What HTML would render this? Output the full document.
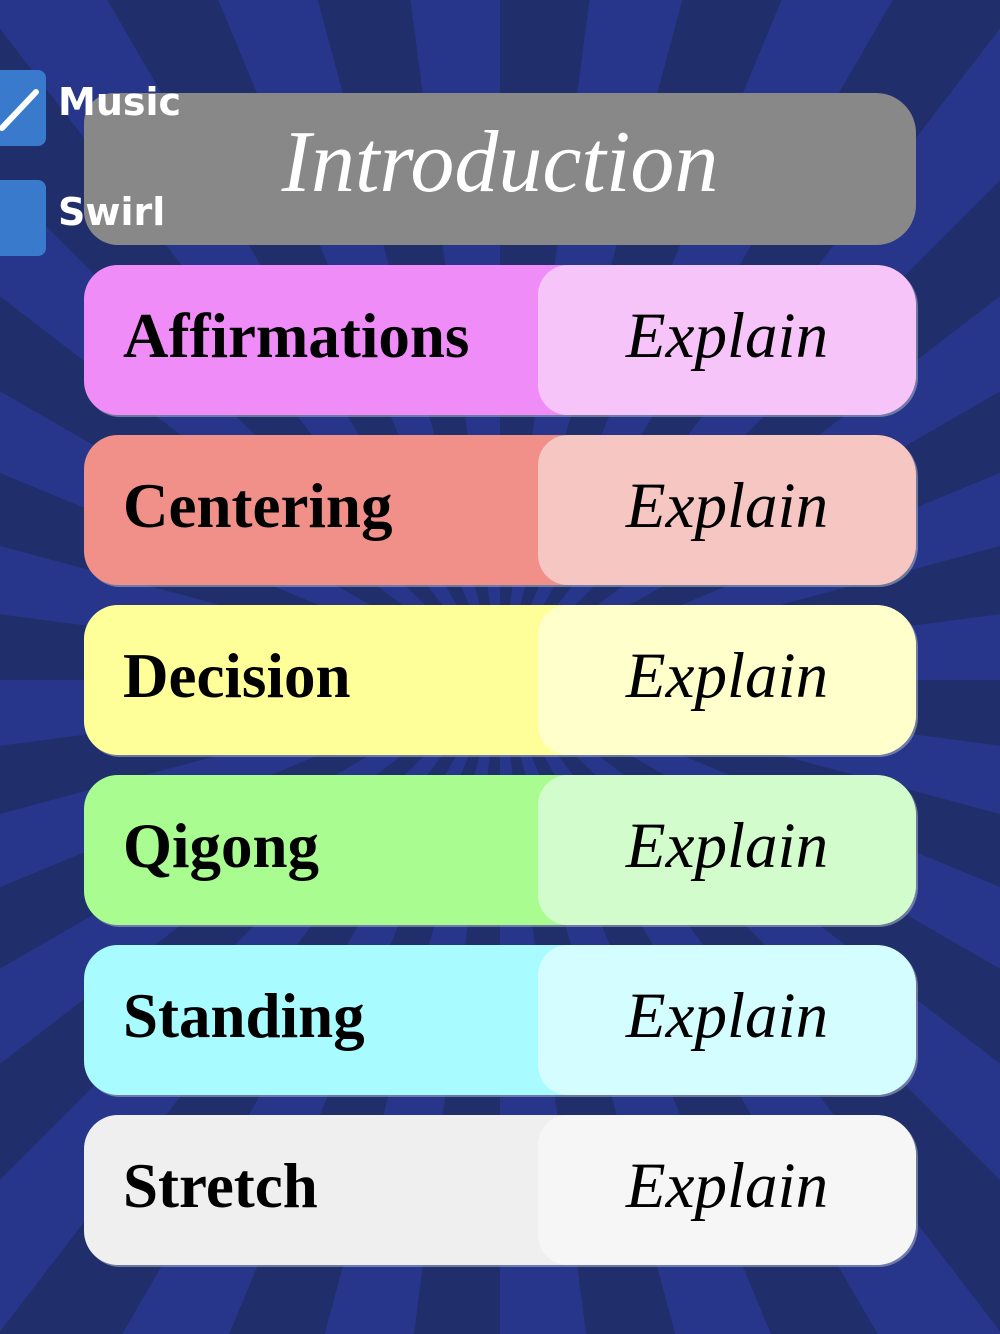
<!DOCTYPE html>
<html><head><style>
html,body{margin:0;padding:0}
body{width:1000px;height:1334px;overflow:hidden;position:relative;
background:repeating-conic-gradient(from 0deg at 500px 680px,#212e6c 0deg 7.5deg,#27358a 7.5deg 15deg);
font-family:"Liberation Serif",serif}
.bar{position:absolute;left:84px;width:832px;height:150px;border-radius:34px 40px 40px 34px;overflow:hidden;box-shadow:2px 2px 0 rgba(160,170,190,.6)}
.bar .l{position:absolute;left:39px;top:-4px;line-height:150px;font-weight:bold;font-size:63px;color:#000}
.bar .r{position:absolute;left:454px;top:0;width:378px;height:150px;border-radius:30px;text-align:center;line-height:142px;font-style:italic;font-size:65px;color:#000}
.intro{position:absolute;left:84px;top:93px;width:832px;height:152px;background:#888;border-radius:30px 40px 40px 34px;text-align:center;line-height:140px;color:#fff;font-style:italic;font-size:88px}
.cb{position:absolute;left:-10px;width:56px;height:76px;background:#3a7acc;border-radius:8px}
.lab{position:absolute;left:58px;color:#fff;font-family:"DejaVu Sans",sans-serif;font-weight:bold;font-size:38px}
</style></head><body>
<div class="intro">Introduction</div>
<div class="cb" style="top:70px"><svg width="56" height="76"><line x1="12" y1="58" x2="46" y2="22" stroke="#fff" stroke-width="6" stroke-linecap="round"/></svg></div>
<div class="cb" style="top:180px"></div>
<div class="lab" style="top:80px">Music</div>
<div class="lab" style="top:190px">Swirl</div>

<div class="bar" style="top:265px;background:#f08cf8"><div class="l">Affirmations</div><div class="r" style="background:#f6c4f8">Explain</div></div>
<div class="bar" style="top:435px;background:#f09088"><div class="l">Centering</div><div class="r" style="background:#f6c6c2">Explain</div></div>
<div class="bar" style="top:605px;background:#ffff99"><div class="l">Decision</div><div class="r" style="background:#ffffcc">Explain</div></div>
<div class="bar" style="top:775px;background:#a8fc90"><div class="l">Qigong</div><div class="r" style="background:#d2fccb">Explain</div></div>
<div class="bar" style="top:945px;background:#a8fcff"><div class="l">Standing</div><div class="r" style="background:#d3fdff">Explain</div></div>
<div class="bar" style="top:1115px;background:#efefef"><div class="l">Stretch</div><div class="r" style="background:#f6f6f6">Explain</div></div>
</body></html>
